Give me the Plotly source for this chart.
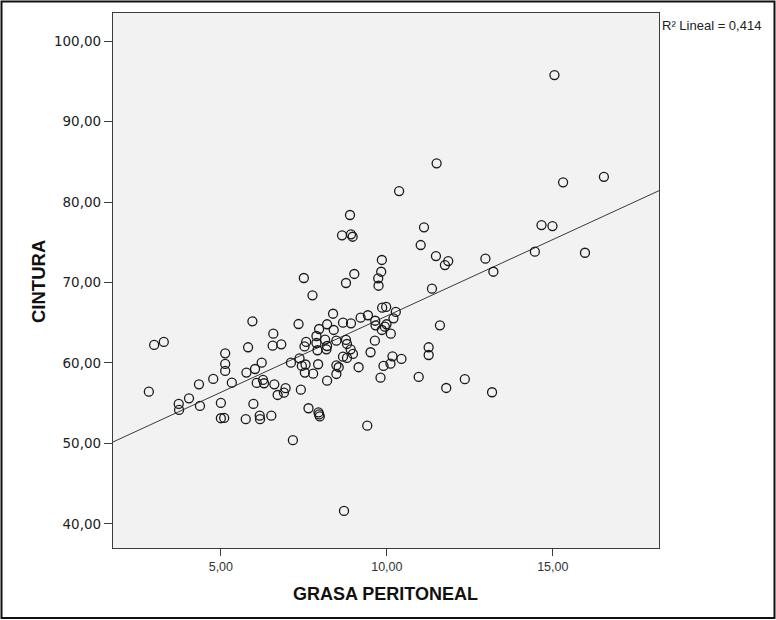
import numpy as np
import plotly.graph_objects as go

grasa_peritoneal = [
    2.99, 3.28, 5.95, 6.58, 6.56, 6.82, 7.34, 7.57, 7.52, 5.13,
    5.82, 5.13, 5.13, 6.23, 6.03, 5.77, 7.11, 7.37, 7.44, 7.55,
    7.53, 4.77, 4.34, 5.33, 6.08, 6.27, 6.30, 6.61, 6.95, 6.90,
    6.71, 7.41, 2.83, 4.04, 3.73, 3.74, 4.37, 5.00, 5.98, 7.64,
    5.00, 5.10, 5.75, 6.17, 6.18, 6.52, 7.17, 7.50, 9.02, 8.77,
    9.85, 9.83, 9.74, 9.75, 11.85, 11.75, 11.36, 7.76, 8.38, 9.86,
    9.98, 10.27, 10.20, 9.43, 9.21, 8.92, 8.68, 9.65, 9.66, 9.99,
    9.94, 9.85, 10.12, 11.60, 8.20, 7.96, 8.40, 7.88, 8.14, 8.48,
    8.77, 8.80, 7.88, 7.91, 8.20, 8.18, 9.64, 8.91, 8.98, 8.80,
    8.68, 9.51, 7.93, 7.78, 8.48, 8.55, 8.48, 8.20, 9.15, 10.17,
    10.44, 10.11, 9.90, 9.81, 11.26, 11.26, 10.96, 11.79, 12.35, 7.94,
    7.96, 7.98, 9.41, 11.50, 15.31, 16.54, 10.37, 11.12, 14.66, 14.99,
    11.02, 11.48, 12.97, 13.21, 14.46, 15.97, 13.17, 8.89, 8.65, 8.92,
    8.97, 15.05, 8.71,
]

cintura = [
    62.24, 62.61, 65.18, 63.64, 62.15, 62.32, 64.84, 62.61, 62.05, 61.20,
    61.95, 59.88, 59.01, 60.04, 59.25, 58.80, 60.04, 60.58, 59.63, 59.81,
    58.80, 58.01, 57.35, 57.55, 57.52, 57.89, 57.48, 57.35, 56.86, 56.31,
    56.02, 56.68, 56.43, 55.61, 54.91, 54.16, 54.66, 55.03, 54.91, 54.37,
    53.13, 53.17, 53.01, 53.45, 53.01, 53.45, 50.40, 70.56, 71.06, 69.94,
    72.80, 71.34, 70.52, 69.60, 72.67, 72.17, 69.23, 68.41, 66.12, 66.87,
    66.96, 66.34, 65.55, 65.93, 65.63, 64.93, 65.01, 65.25, 64.68, 64.81,
    64.51, 64.10, 63.64, 64.68, 64.81, 64.22, 64.10, 63.35, 62.89, 62.77,
    62.86, 62.36, 62.48, 61.58, 62.11, 61.70, 62.77, 61.70, 61.12, 60.62,
    60.78, 61.33, 59.84, 58.67, 59.71, 59.47, 58.63, 57.80, 59.47, 60.83,
    60.50, 59.91, 59.63, 58.17, 61.95, 60.99, 58.26, 56.89, 57.98, 53.85,
    53.60, 53.35, 52.21, 84.81, 82.45, 83.14, 81.37, 76.86, 77.14, 77.02,
    74.66, 73.29, 72.96, 71.34, 73.83, 73.70, 56.36, 78.39, 75.86, 75.99,
    75.69, 95.78, 41.61,
]

x_ticks = [5, 10, 15]
y_ticks = [40, 50, 60, 70, 80, 90, 100]
x_title = "GRASA PERITONEAL"
y_title = "CINTURA"
r2_label = "R² Lineal = 0,414"

X_RANGE = [1.75, 18.2]
Y_RANGE = [37.0, 103.5]

x = np.array(grasa_peritoneal)
y = np.array(cintura)
slope, intercept = np.polyfit(x, y, 1)
line_x = np.array(X_RANGE)
line_y = intercept + slope * line_x

fig = go.Figure()
fig.add_trace(go.Scatter(
    x=line_x, y=line_y, mode="lines",
    line=dict(color="#3a3a3a", width=1),
    hoverinfo="skip", showlegend=False,
))
fig.add_trace(go.Scatter(
    x=grasa_peritoneal, y=cintura, mode="markers",
    marker=dict(symbol="circle-open", size=9, color="#1a1a1a",
                line=dict(width=1.3, color="#1a1a1a")),
    showlegend=False,
))

W, H = 776, 620
ml, mr, mt, mb = 113, 117, 13, 72
pw, ph = W - ml - mr, H - mt - mb

def px_to_paper_x(px):
    return (px - ml) / pw

def py_to_paper_y(py):
    return (H - mb - py) / ph

fig.update_layout(
    width=W, height=H,
    margin=dict(l=ml, r=mr, t=mt, b=mb, pad=0),
    paper_bgcolor="white",
    plot_bgcolor="#f2f2f2",
    separators=",.",
    showlegend=False,
    xaxis=dict(
        range=X_RANGE, tickvals=x_ticks, tickformat=".2f",
        showgrid=False, zeroline=False,
        showline=True, mirror=True, linecolor="#3c3c3c", linewidth=1.2,
        ticks="outside", ticklen=7, tickcolor="#3c3c3c", tickwidth=1,
        tickfont=dict(family="Liberation Sans, Arial", size=12.5, color="#333333"),
    ),
    yaxis=dict(
        range=Y_RANGE, tickvals=y_ticks, tickformat=".2f",
        showgrid=False, zeroline=False,
        showline=True, mirror=True, linecolor="#3c3c3c", linewidth=1.2,
        ticks="outside", ticklen=8, tickcolor="#3c3c3c", tickwidth=1,
        tickfont=dict(family="DejaVu Sans, Verdana", size=13.5, color="#222222"),
    ),
    shapes=[
        dict(type="rect", xref="paper", yref="paper",
             x0=px_to_paper_x(1.5), x1=px_to_paper_x(774.5),
             y0=py_to_paper_y(618), y1=py_to_paper_y(1.5),
             line=dict(color="#111111", width=2), fillcolor="rgba(0,0,0,0)",
             layer="below"),
    ],
    annotations=[
        dict(text=r2_label, xref="paper", yref="paper",
             x=px_to_paper_x(660), y=py_to_paper_y(26),
             xanchor="left", yanchor="middle", showarrow=False,
             font=dict(family="Liberation Sans, Arial", size=13, color="#222222")),
        dict(text="<b>" + x_title + "</b>", xref="paper", yref="paper",
             x=px_to_paper_x(385), y=py_to_paper_y(594), xanchor="center", yanchor="middle",
             showarrow=False,
             font=dict(family="Liberation Sans, Arial", size=18, color="#111111")),
        dict(text="<b>" + y_title + "</b>", xref="paper", yref="paper",
             x=px_to_paper_x(38), y=py_to_paper_y(282), xanchor="center", yanchor="middle",
             textangle=-90, showarrow=False,
             font=dict(family="Liberation Sans, Arial", size=18.5, color="#111111")),
    ],
)

fig.write_html(
    "out.html",
    config={"displayModeBar": False},
    post_script="document.body.style.margin='0px';document.body.style.overflow='hidden';",
)
